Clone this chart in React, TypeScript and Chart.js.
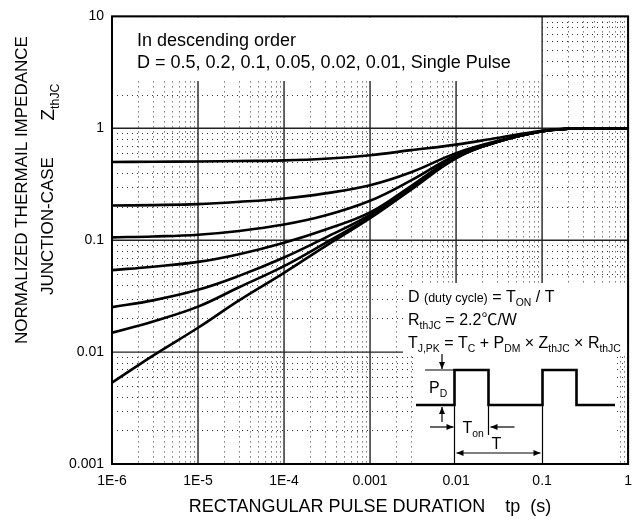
import React, { useEffect, useRef } from "react";
import { Chart, registerables } from "chart.js";

Chart.register(...registerables);

// ---- data ----
const pulseDurations = [1e-6, 3e-6, 1e-5, 3e-5, 1e-4, 3e-4, 1e-3, 3e-3, 1e-2, 3e-2, 0.1, 0.2, 0.3, 1];
const dutyLabels = ["D=0.5", "D=0.2", "D=0.1", "D=0.05", "D=0.02", "D=0.01", "Single Pulse"];
const zD050 = [0.5, 0.502, 0.505, 0.51, 0.517, 0.535, 0.575, 0.638, 0.715, 0.82, 0.95, 0.99, 1.0, 1.0];
const zD020 = [0.204, 0.206, 0.21, 0.22, 0.236, 0.262, 0.31, 0.405, 0.6, 0.77, 0.94, 0.99, 1.0, 1.0];
const zD010 = [0.106, 0.108, 0.112, 0.121, 0.138, 0.166, 0.225, 0.342, 0.575, 0.76, 0.94, 0.99, 1.0, 1.0];
const zD005 = [0.054, 0.058, 0.064, 0.075, 0.095, 0.124, 0.177, 0.305, 0.56, 0.758, 0.94, 0.99, 1.0, 1.0];
const zD002 = [0.0252, 0.029, 0.036, 0.048, 0.07, 0.105, 0.168, 0.296, 0.55, 0.756, 0.94, 0.99, 1.0, 1.0];
const zD001 = [0.0149, 0.0188, 0.0255, 0.038, 0.0586, 0.094, 0.162, 0.289, 0.545, 0.755, 0.94, 0.99, 1.0, 1.0];
const zSingle = [0.00533, 0.0093, 0.0165, 0.029, 0.0511, 0.088, 0.157, 0.283, 0.54, 0.754, 0.94, 0.99, 1.0, 1.0];
const seriesValues = [zD050, zD020, zD010, zD005, zD002, zD001, zSingle];

const xTickValues = [1e-6, 1e-5, 1e-4, 1e-3, 1e-2, 1e-1, 1];
const xTickLabels = ["1E-6", "1E-5", "1E-4", "0.001", "0.01", "0.1", "1"];
const yTickValues = [0.001, 0.01, 0.1, 1, 10];
const yTickLabels = ["0.001", "0.01", "0.1", "1", "10"];

const FONT = "'Liberation Sans', Arial, 'Noto Sans CJK SC', sans-serif";

type Part = { t: string; sub?: boolean; scale?: number };

function richWidth(ctx: CanvasRenderingContext2D, parts: Part[], size: number) {
  let w = 0;
  for (const p of parts) {
    const s = p.sub ? size * 0.65 : size * (p.scale || 1);
    ctx.font = `${s}px ${FONT}`;
    w += ctx.measureText(p.t).width;
  }
  return w;
}

function drawRich(ctx: CanvasRenderingContext2D, parts: Part[], x: number, y: number, size: number) {
  let cx = x;
  ctx.textAlign = "left";
  ctx.textBaseline = "alphabetic";
  for (const p of parts) {
    const s = p.sub ? size * 0.65 : size * (p.scale || 1);
    ctx.font = `${s}px ${FONT}`;
    ctx.fillText(p.t, cx, y + (p.sub ? size * 0.28 : 0));
    cx += ctx.measureText(p.t).width;
  }
  return cx;
}

function arrow(ctx: CanvasRenderingContext2D, x1: number, y1: number, x2: number, y2: number, both = false) {
  ctx.beginPath();
  ctx.moveTo(x1, y1);
  ctx.lineTo(x2, y2);
  ctx.stroke();
  const head = (fx: number, fy: number, tx: number, ty: number) => {
    const a = Math.atan2(ty - fy, tx - fx);
    const L = 7, W = 3;
    ctx.beginPath();
    ctx.moveTo(tx, ty);
    ctx.lineTo(tx - L * Math.cos(a) + W * Math.sin(a), ty - L * Math.sin(a) - W * Math.cos(a));
    ctx.lineTo(tx - L * Math.cos(a) - W * Math.sin(a), ty - L * Math.sin(a) + W * Math.cos(a));
    ctx.closePath();
    ctx.fill();
  };
  head(x1, y1, x2, y2);
  if (both) head(x2, y2, x1, y1);
}

const gridPlugin = {
  id: "thermalGrid",
  beforeDatasetsDraw(chart: any) {
    const { ctx, chartArea: a, scales } = chart;
    const xs = scales.x, ys = scales.y;
    ctx.save();
    // minor dotted grid
    ctx.strokeStyle = "#333";
    ctx.lineWidth = 1;
    ctx.setLineDash([1, 4]);
    for (let e = -6; e < 0; e++) {
      for (let k = 2; k <= 9; k++) {
        const px = Math.round(xs.getPixelForValue(k * Math.pow(10, e))) + 0.5;
        ctx.beginPath();
        ctx.moveTo(px, a.top);
        ctx.lineTo(px, a.bottom);
        ctx.stroke();
      }
    }
    for (let e = -3; e < 1; e++) {
      for (let k = 2; k <= 9; k++) {
        const py = Math.round(ys.getPixelForValue(k * Math.pow(10, e))) + 0.5;
        ctx.beginPath();
        ctx.moveTo(a.left, py);
        ctx.lineTo(a.right, py);
        ctx.stroke();
      }
    }
    ctx.setLineDash([]);
    // major solid grid
    ctx.strokeStyle = "#222";
    ctx.lineWidth = 1.4;
    for (const v of xTickValues) {
      const px = xs.getPixelForValue(v);
      ctx.beginPath();
      ctx.moveTo(px, a.top);
      ctx.lineTo(px, a.bottom);
      ctx.stroke();
    }
    for (const v of yTickValues) {
      const py = ys.getPixelForValue(v);
      ctx.beginPath();
      ctx.moveTo(a.left, py);
      ctx.lineTo(a.right, py);
      ctx.stroke();
    }
    // white annotation boxes
    ctx.fillStyle = "#fff";
    const x01 = xs.getPixelForValue(0.1);
    ctx.fillRect(a.left + 1, a.top + 1, x01 - a.left - 2, 80 - a.top);
    ctx.fillRect(403, 283, a.right - 403 - 1, 70);
    ctx.fillRect(414, 353, 617 - 414, a.bottom - 353 - 1);
    ctx.restore();
  },
  afterDatasetsDraw(chart: any) {
    const { ctx, chartArea: a, scales } = chart;
    const xs = scales.x;
    ctx.save();
    ctx.fillStyle = "#000";
    ctx.strokeStyle = "#000";
    // upper-left note
    ctx.font = `18px ${FONT}`;
    ctx.textAlign = "left";
    ctx.textBaseline = "alphabetic";
    ctx.fillText("In descending order", 137, 46);
    ctx.fillText("D = 0.5, 0.2, 0.1, 0.05, 0.02, 0.01, Single Pulse", 137, 68);

    // formulas
    drawRich(ctx, [{ t: "D " }, { t: "(duty cycle)", scale: 0.78 }, { t: " = T" }, { t: "ON", sub: true }, { t: " / T" }], 408, 302, 16);
    drawRich(ctx, [{ t: "R" }, { t: "thJC", sub: true }, { t: " = 2.2℃/W" }], 408, 325, 16);
    drawRich(
      ctx,
      [
        { t: "T" }, { t: "J,PK", sub: true }, { t: " = T" }, { t: "C", sub: true },
        { t: " + P" }, { t: "DM", sub: true }, { t: " × Z" }, { t: "thJC", sub: true },
        { t: " × R" }, { t: "thJC", sub: true },
      ],
      408, 348, 16
    );

    // pulse diagram
    const r1 = Math.round(xs.getPixelForValue(0.01)) - 1.5;
    const r2 = Math.round(xs.getPixelForValue(0.1)) + 0.5;
    const f1 = r1 + 34;
    const f2 = r2 + 34;
    const hi = 370, lo = 405;
    ctx.lineWidth = 2.6;
    ctx.beginPath();
    ctx.moveTo(416, lo);
    ctx.lineTo(r1, lo);
    ctx.lineTo(r1, hi);
    ctx.lineTo(f1, hi);
    ctx.lineTo(f1, lo);
    ctx.lineTo(r2, lo);
    ctx.lineTo(r2, hi);
    ctx.lineTo(f2, hi);
    ctx.lineTo(f2, lo);
    ctx.lineTo(615, lo);
    ctx.stroke();
    ctx.lineWidth = 1.2;
    ctx.beginPath();
    ctx.moveTo(425, hi); ctx.lineTo(r1, hi);
    ctx.moveTo(r1, lo); ctx.lineTo(r1, a.bottom);
    ctx.moveTo(f1, lo); ctx.lineTo(f1, 435);
    ctx.moveTo(r2, lo); ctx.lineTo(r2, a.bottom);
    ctx.stroke();
    arrow(ctx, 442, 354, 442, hi - 1);
    arrow(ctx, 442, 422, 442, lo + 2);
    arrow(ctx, 430, 427, r1 - 1, 427);
    arrow(ctx, f1 + 26, 427, f1 + 2, 427);
    arrow(ctx, r1 + 2, 453, r2 - 2, 453, true);
    drawRich(ctx, [{ t: "P" }, { t: "D", sub: true }], 429, 393, 16);
    drawRich(ctx, [{ t: "T" }, { t: "on", sub: true }], r1 + 8, 433, 16);
    ctx.font = `16px ${FONT}`;
    ctx.fillText("T", f1 + 3, 449);

    // frame
    ctx.lineWidth = 2;
    ctx.strokeRect(a.left, a.top, a.right - a.left, a.bottom - a.top);

    // axis titles
    ctx.textAlign = "center";
    ctx.textBaseline = "middle";
    ctx.font = `18px ${FONT}`;
    ctx.fillText("RECTANGULAR PULSE DURATION    tp  (s)", (a.left + a.right) / 2, 507);

    ctx.save();
    ctx.translate(22, 190);
    ctx.rotate(-Math.PI / 2);
    ctx.font = `17px ${FONT}`;
    ctx.fillText("NORMALIZED THERMAIL IMPEDANCE", 0, 0);
    ctx.restore();

    ctx.save();
    ctx.translate(48, 226);
    ctx.rotate(-Math.PI / 2);
    ctx.font = `17px ${FONT}`;
    ctx.fillText("JUNCTION-CASE", 0, 0);
    ctx.restore();

    ctx.save();
    ctx.translate(48, 102);
    ctx.rotate(-Math.PI / 2);
    const zParts: Part[] = [{ t: "Z" }, { t: "thJC", sub: true }];
    const zw = richWidth(ctx, zParts, 19);
    drawRich(ctx, zParts, -zw / 2, 6, 19);
    ctx.restore();

    ctx.restore();
  },
};

export default function App() {
  const ref = useRef<HTMLCanvasElement>(null);
  useEffect(() => {
    const chart = new Chart(ref.current!, {
      type: "line",
      data: {
        datasets: seriesValues.map((vals, i) => ({
          label: dutyLabels[i],
          data: pulseDurations.map((x, j) => ({ x, y: vals[j] })),
          borderColor: "#000",
          borderWidth: 2.6,
          pointRadius: 0,
          fill: false,
          tension: 0.4,
        })),
      },
      options: {
        responsive: false,
        animation: false,
        layout: { padding: { left: 0, top: 15, right: 12, bottom: 0 } },
        plugins: { legend: { display: false }, tooltip: { enabled: false }, title: { display: false } },
        scales: {
          x: {
            type: "logarithmic",
            min: 1e-6,
            max: 1,
            afterBuildTicks: (s: any) => {
              s.ticks = xTickValues.map((v) => ({ value: v }));
            },
            afterFit: (s: any) => {
              s.height = 56;
            },
            grid: { display: false, drawTicks: false },
            border: { display: false },
            ticks: {
              autoSkip: false,
              maxRotation: 0,
              minRotation: 0,
              padding: 9,
              color: "#000",
              font: { family: FONT, size: 14 },
              callback: (_v: any, i: number) => xTickLabels[i],
            },
          },
          y: {
            type: "logarithmic",
            min: 0.001,
            max: 10,
            afterBuildTicks: (s: any) => {
              s.ticks = yTickValues.map((v) => ({ value: v }));
            },
            afterFit: (s: any) => {
              s.width = 112;
            },
            grid: { display: false, drawTicks: false },
            border: { display: false },
            ticks: {
              autoSkip: false,
              padding: 8,
              color: "#000",
              font: { family: FONT, size: 14 },
              callback: (_v: any, i: number) => yTickLabels[i],
            },
          },
        },
      },
      plugins: [gridPlugin],
    });
    return () => chart.destroy();
  }, []);
  return (
    <div style={{ position: "fixed", left: 0, top: 0, width: 641, height: 520, background: "#fff" }}>
      <canvas ref={ref} width={641} height={520} style={{ display: "block", width: 641, height: 520 }} />
    </div>
  );
}
